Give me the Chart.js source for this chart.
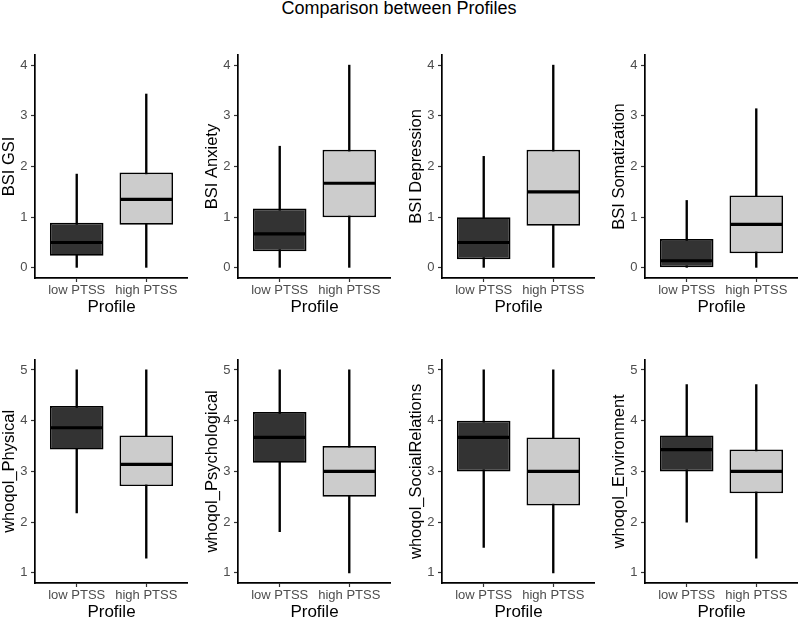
<!DOCTYPE html>
<html>
<head>
<meta charset="utf-8">
<script src="https://cdn.jsdelivr.net/npm/chart.js@4/dist/chart.umd.min.js"></script>
<style>
  html, body { margin: 0; padding: 0; background: #ffffff; }
  body { width: 798px; height: 620px; position: relative; overflow: hidden; }
  #title { position: absolute; left: 0; top: -2px; width: 798px; text-align: center;
           font-family: "Liberation Sans", Arial, sans-serif; font-size: 18px; line-height: 21px; color: #000; }
  canvas { position: absolute; }
</style>
</head>
<body>
<div id="title">Comparison between Profiles</div>

<script>
// ---------------- DATA ----------------
const profiles = ['low PTSS', 'high PTSS'];
const variables = ['BSI GSI', 'BSI Anxiety', 'BSI Depression', 'BSI Somatization',
                   'whoqol_Physical', 'whoqol_Psychological', 'whoqol_SocialRelations', 'whoqol_Environment'];
// each entry: [low PTSS, high PTSS]
const whiskerLow  = [[0, 0], [0, 0], [0, 0], [0, 0], [2.18, 1.29], [1.81, 1.00], [1.50, 1.00], [2.00, 1.29]];
const q1          = [[0.24, 0.85], [0.33, 1.00], [0.17, 0.83], [0.00, 0.29], [3.43, 2.71], [3.17, 2.50], [3.00, 2.33], [3.00, 2.57]];
const medians     = [[0.50, 1.35], [0.67, 1.67], [0.50, 1.50], [0.14, 0.86], [3.86, 3.14], [3.67, 3.00], [3.67, 3.00], [3.43, 3.00]];
const q3          = [[0.89, 1.88], [1.17, 2.33], [1.00, 2.33], [0.57, 1.43], [4.29, 3.71], [4.17, 3.50], [4.00, 3.67], [3.71, 3.43]];
const whiskerHigh = [[1.85, 3.43], [2.40, 4.00], [2.20, 4.00], [1.33, 3.14], [5.00, 5.00], [5.00, 5.00], [5.00, 5.00], [4.71, 4.71]];
const bsiTicks = [0, 1, 2, 3, 4];
const whoqolTicks = [1, 2, 3, 4, 5];
const xTickLabel = 'Profile';
// --------------------------------------

const FONT = '"Liberation Sans", Arial, sans-serif';
Chart.defaults.font.family = FONT;
const boxColors = ['#333333', '#cccccc'];

const medianPlugin = {
  id: 'medianLines',
  afterDatasetsDraw(chart) {
    const meta = chart.getDatasetMeta(1);
    const yScale = chart.scales.y;
    const meds = chart.options.plugins.medianLines.values;
    const ctx = chart.ctx;
    ctx.save();
    ctx.strokeStyle = '#000000';
    ctx.lineWidth = 3.2;
    meta.data.forEach((el, i) => {
      const y = yScale.getPixelForValue(meds[i]);
      ctx.beginPath();
      ctx.moveTo(el.x - el.width / 2 + 0.8, y);
      ctx.lineTo(el.x + el.width / 2 - 0.8, y);
      ctx.stroke();
    });
    ctx.restore();
  }
};

const lefts = [0, 203, 407, 610];
const tops = [40, 345];

variables.forEach((name, k) => {
  const row = Math.floor(k / 4), col = k % 4;
  const ticks = row === 0 ? bsiTicks : whoqolTicks;
  const cv = document.createElement('canvas');
  cv.width = 188; cv.height = 280;
  cv.style.left = lefts[col] + 'px';
  cv.style.top = tops[row] + 'px';
  document.body.appendChild(cv);

  const lo = ticks[0], hi = ticks[ticks.length - 1];
  const pad = (hi - lo) * 0.05;

  new Chart(cv, {
    type: 'bar',
    data: {
      datasets: [
        {
          label: 'whisker',
          data: profiles.map((p, i) => ({ x: i + 1, y: [whiskerLow[k][i], whiskerHigh[k][i]] })),
          backgroundColor: '#000000',
          borderWidth: 0,
          barThickness: 1.7,
          grouped: false,
          order: 2
        },
        {
          label: 'box',
          data: profiles.map((p, i) => ({ x: i + 1, y: [q1[k][i], q3[k][i]] })),
          backgroundColor: boxColors,
          borderColor: '#000000',
          borderWidth: 1.7,
          borderSkipped: false,
          barPercentage: 0.77,
          categoryPercentage: 1,
          grouped: false,
          order: 1
        }
      ]
    },
    options: {
      responsive: false,
      animation: false,
      devicePixelRatio: 1,
      layout: { padding: { top: row === 0 ? 15 : 14.8, right: 0, bottom: 0, left: 0 } },
      plugins: {
        legend: { display: false },
        tooltip: { enabled: false },
        title: { display: false },
        medianLines: { values: medians[k] }
      },
      scales: {
        x: {
          type: 'linear',
          offset: false,
          min: 0.4, max: 2.6,
          afterBuildTicks: s => { s.ticks = profiles.map((p, i) => ({ value: i + 1 })); },
          afterFit: s => { s.height = 42; },
          ticks: {
            callback: v => profiles[v - 1],
            autoSkip: false, maxRotation: 0, minRotation: 0,
            color: '#4d4d4d', font: { size: 13 }, padding: 1
          },
          grid: { display: true, offset: false, drawOnChartArea: false, drawTicks: true, tickLength: 4, tickColor: '#333333', tickWidth: 1.2 },
          border: { display: true, color: '#000000', width: 1.7 },
          title: { display: true, text: xTickLabel, color: '#000000', font: { size: 17 }, padding: { top: 0, bottom: 2.8 } }
        },
        y: {
          type: 'linear',
          min: lo - pad, max: hi + pad,
          afterBuildTicks: s => { s.ticks = ticks.map(v => ({ value: v })); },
          afterFit: s => { s.width = 35; },
          ticks: { color: '#4d4d4d', font: { size: 13 }, padding: 3.5 },
          grid: { display: true, drawOnChartArea: false, drawTicks: true, tickLength: 4, tickColor: '#333333', tickWidth: 1.2 },
          border: { display: true, color: '#000000', width: 1.7 },
          title: { display: true, text: name, color: '#000000', font: { size: 16.5 }, padding: { top: 0, bottom: 0 } }
        }
      }
    },
    plugins: [medianPlugin]
  });
});
</script>
</body>
</html>
